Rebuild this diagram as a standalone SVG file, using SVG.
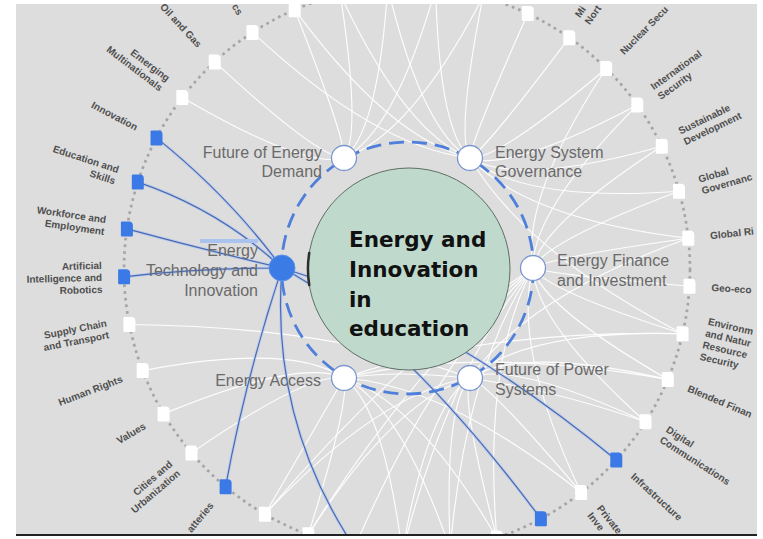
<svg xmlns="http://www.w3.org/2000/svg" xmlns:xlink="http://www.w3.org/1999/xlink" width="763" height="539" viewBox="0 0 763 539">
<style>
.w{fill:none;stroke:#ffffff;stroke-width:1.15;opacity:0.95}
.bh{fill:none;stroke:#aac3ef;stroke-width:3.2;opacity:0.55}
.b{fill:none;stroke:#4869b5;stroke-width:1.2}
.lbl{font-family:"Liberation Sans",Arial,sans-serif;font-size:10px;font-weight:bold;fill:#4f4f4f}
.e{text-anchor:end}
.nl{font-family:"Liberation Sans",Arial,sans-serif;font-size:16px;fill:#6a6a6a}
.sqw{fill:#ffffff}
.sqb{fill:#3b7ae6}
.node{fill:#ffffff;stroke:#7b96cf;stroke-width:1.3}
</style>
<defs>
<clipPath id="clip"><rect x="16" y="4" width="741" height="530"/></clipPath>
<path id="sq" d="M-5,-7.5 H2 A4,4 0 0 1 6,-3.5 V6.5 A1,1 0 0 1 5,7.5 H-5 A1,1 0 0 1 -6,6.5 V-6.5 A1,1 0 0 1 -5,-7.5 Z"/>
</defs>
<rect x="0" y="0" width="763" height="539" fill="#ffffff"/>
<rect x="16" y="4" width="741" height="530" fill="#dddddd"/>
<g clip-path="url(#clip)">
<g id="connectors">
<path class="w" d="M344,158 Q306.3,169.8 182.3,97.4"/>
<path class="w" d="M344,158 Q317.6,157.4 214.7,61.9"/>
<path class="w" d="M344,158 Q345.6,139.1 294.7,9.7"/>
<path class="w" d="M344,158 Q361.6,133.8 340.3,-5.5"/>
<path class="w" d="M344,158 Q378.2,131.2 387.7,-12.8"/>
<path class="w" d="M344,158 Q395,131.5 435.7,-12"/>
<path class="w" d="M344,158 Q411.5,134.6 482.9,-3.1"/>
<path class="w" d="M470,158 Q375,147 252.5,32.4"/>
<path class="w" d="M470,158 Q389.7,139.1 294.7,9.7"/>
<path class="w" d="M470,158 Q405.7,133.8 340.3,-5.5"/>
<path class="w" d="M470,158 Q422.3,131.2 387.7,-12.8"/>
<path class="w" d="M470,158 Q439.1,131.5 435.7,-12"/>
<path class="w" d="M470,158 Q455.6,134.6 482.9,-3.1"/>
<path class="w" d="M470,158 Q471.3,140.5 527.8,13.6"/>
<path class="w" d="M470,158 Q485.9,148.9 569.3,37.7"/>
<path class="w" d="M470,158 Q498.8,159.7 606.2,68.5"/>
<path class="w" d="M470,158 Q509.7,172.5 637.3,105.1"/>
<path class="w" d="M470,158 Q518.2,186.9 661.8,146.3"/>
<path class="w" d="M470,158 Q524.3,202.6 679,191.2"/>
<path class="w" d="M470,158 Q527.5,219.1 688.3,238.2"/>
<path class="w" d="M470,158 Q525.5,252.5 682.6,333.7"/>
<path class="w" d="M533,268 Q520.8,198.2 606.2,68.5"/>
<path class="w" d="M533,268 Q531.7,211 637.3,105.1"/>
<path class="w" d="M533,268 Q540.3,225.4 661.8,146.3"/>
<path class="w" d="M533,268 Q546.3,241.1 679,191.2"/>
<path class="w" d="M533,268 Q549.6,257.6 688.3,238.2"/>
<path class="w" d="M533,268 Q550,274.4 689.5,286.2"/>
<path class="w" d="M533,268 Q547.6,291 682.6,333.7"/>
<path class="w" d="M533,268 Q542.4,307 667.8,379.4"/>
<path class="w" d="M533,268 Q534.6,321.8 645.5,421.8"/>
<path class="w" d="M533,268 Q512,346.6 581.1,492.6"/>
<path class="w" d="M533,268 Q482.5,362.5 496.8,537.9"/>
<path class="w" d="M533,268 Q466.2,366.4 450.2,549.2"/>
<path class="w" d="M533,268 Q449.5,367.6 402.3,552.5"/>
<path class="w" d="M533,268 Q432.8,365.9 354.6,547.6"/>
<path class="w" d="M533,268 Q416.6,361.3 308.3,534.7"/>
<path class="w" d="M533,268 Q401.4,354.2 264.9,514.2"/>
<path class="w" d="M470,378 Q527.5,296.1 688.3,238.2"/>
<path class="w" d="M470,378 Q525.5,329.5 682.6,333.7"/>
<path class="w" d="M470,378 Q520.3,345.5 667.8,379.4"/>
<path class="w" d="M470,378 Q512.5,360.3 645.5,421.8"/>
<path class="w" d="M470,378 Q490,385.1 581.1,492.6"/>
<path class="w" d="M470,378 Q460.5,401 496.8,537.9"/>
<path class="w" d="M470,378 Q444.2,404.9 450.2,549.2"/>
<path class="w" d="M470,378 Q427.4,406.1 402.3,552.5"/>
<path class="w" d="M470,378 Q394.5,399.8 308.3,534.7"/>
<path class="w" d="M470,378 Q379.3,392.7 264.9,514.2"/>
<path class="w" d="M470,378 Q331.9,326.3 129.4,324.5"/>
<path class="w" d="M344,378 Q292.4,342.4 142.7,370.6"/>
<path class="w" d="M344,378 Q299.8,357.6 163.6,413.9"/>
<path class="w" d="M344,378 Q309.5,371.2 191.5,452.9"/>
<path class="w" d="M344,378 Q335.2,392.7 264.9,514.2"/>
<path class="w" d="M344,378 Q350.4,399.8 308.3,534.7"/>
<path class="w" d="M344,378 Q383.3,406.1 402.3,552.5"/>
<path class="w" d="M344,378 Q400.1,404.9 450.2,549.2"/>
<path class="w" d="M344,378 Q416.4,401 496.8,537.9"/>
<path class="w" d="M344,378 Q445.9,385.1 581.1,492.6"/>
<path class="w" d="M344,378 Q468.4,360.3 645.5,421.8"/>
<path class="w" d="M344,378 Q476.2,345.5 667.8,379.4"/>
<path class="w" d="M344,378 Q481.4,329.5 682.6,333.7"/>
<g id="tech-links">
<path class="bh" d="M282,268 Q230,197 156.5,137.9"/>
<path class="bh" d="M282,268 Q220,210 137.8,182.1"/>
<path class="bh" d="M282,268 Q205,250 126.9,228.9"/>
<path class="bh" d="M282,268 Q200,268 124.1,276.8"/>
<path class="bh" d="M282,268 Q245,380 225.6,486.7"/>
<path class="bh" d="M282,268 Q270,420 354.6,547.6"/>
<path class="bh" d="M282,268 Q400,330 540.9,518.8"/>
<path class="bh" d="M282,268 Q440,315 616.3,460"/>
<path class="b" d="M282,268 Q230,197 156.5,137.9"/>
<path class="b" d="M282,268 Q220,210 137.8,182.1"/>
<path class="b" d="M282,268 Q205,250 126.9,228.9"/>
<path class="b" d="M282,268 Q200,268 124.1,276.8"/>
<path class="b" d="M282,268 Q245,380 225.6,486.7"/>
<path class="b" d="M282,268 Q270,420 354.6,547.6"/>
<path class="b" d="M282,268 Q400,330 540.9,518.8"/>
<path class="b" d="M282,268 Q440,315 616.3,460"/>
</g>
</g>
<circle id="outer-ring" cx="407" cy="269.5" r="283" fill="none" stroke="#a5a5a5" stroke-width="2.7" stroke-dasharray="2.7 4"/>
<g id="topics">
<g id="t36"><use xlink:href="#sq" class="sqw" transform="translate(679,191.2)"/><text class="lbl" transform="translate(700.1,185.1) rotate(-16.07)"><tspan x="0" y="-2.5">Global</tspan><tspan x="0" y="9.5">Governanc</tspan></text></g>
<g id="t0"><use xlink:href="#sq" class="sqw" transform="translate(688.3,238.2)"/><text class="lbl" transform="translate(710.1,235.8) rotate(-6.35)" y="3.5">Global Ri</text></g>
<g id="t1"><use xlink:href="#sq" class="sqw" transform="translate(689.5,286.2)"/><text class="lbl" transform="translate(711.5,287.5) rotate(3.38)" y="3.5">Geo-eco</text></g>
<g id="t2"><use xlink:href="#sq" class="sqw" transform="translate(682.6,333.7)"/><text class="lbl" transform="translate(704.1,338.7) rotate(13.11)"><tspan x="0" y="-14.5">Environm</tspan><tspan x="0" y="-2.5">and Natur</tspan><tspan x="0" y="9.5">Resource</tspan><tspan x="0" y="21.5">Security</tspan></text></g>
<g id="t3"><use xlink:href="#sq" class="sqw" transform="translate(667.8,379.4)"/><text class="lbl" transform="translate(688.1,387.9) rotate(22.84)" y="3.5">Blended Finan</text></g>
<g id="t4"><use xlink:href="#sq" class="sqw" transform="translate(645.5,421.8)"/><text class="lbl" transform="translate(664,433.7) rotate(32.57)"><tspan x="0" y="-2.5">Digital</tspan><tspan x="0" y="9.5">Communications</tspan></text></g>
<g id="t5"><use xlink:href="#sq" class="sqb" transform="translate(616.3,460)"/><text class="lbl" transform="translate(632.6,474.8) rotate(42.3)" y="3.5">Infrastructure</text></g>
<g id="t6"><use xlink:href="#sq" class="sqw" transform="translate(581.1,492.6)"/><text class="lbl" transform="translate(594.6,510) rotate(52.03)"><tspan x="0" y="-2.5">Private</tspan><tspan x="0" y="9.5">Inve</tspan></text></g>
<g id="t7"><use xlink:href="#sq" class="sqb" transform="translate(540.9,518.8)"/></g>
<g id="t8"><use xlink:href="#sq" class="sqw" transform="translate(496.8,537.9)"/></g>
<g id="t12"><use xlink:href="#sq" class="sqw" transform="translate(308.3,534.7)"/></g>
<g id="t13"><use xlink:href="#sq" class="sqw" transform="translate(264.9,514.2)"/></g>
<g id="t14"><use xlink:href="#sq" class="sqb" transform="translate(225.6,486.7)"/><text class="lbl e" transform="translate(211.5,503.6) rotate(-50.13)" y="3.5">atteries</text></g>
<g id="t15"><use xlink:href="#sq" class="sqw" transform="translate(191.5,452.9)"/><text class="lbl e" transform="translate(174.7,467.2) rotate(-40.4)"><tspan x="0" y="-2.5">Cities and</tspan><tspan x="0" y="9.5">Urbanization</tspan></text></g>
<g id="t16"><use xlink:href="#sq" class="sqw" transform="translate(163.6,413.9)"/><text class="lbl e" transform="translate(144.7,425.1) rotate(-30.67)" y="3.5">Values</text></g>
<g id="t17"><use xlink:href="#sq" class="sqw" transform="translate(142.7,370.6)"/><text class="lbl e" transform="translate(122.1,378.5) rotate(-20.94)" y="3.5">Human Rights</text></g>
<g id="t18"><use xlink:href="#sq" class="sqw" transform="translate(129.4,324.5)"/><text class="lbl e" transform="translate(107.8,328.8) rotate(-11.21)"><tspan x="0" y="-2.5">Supply Chain</tspan><tspan x="0" y="9.5">and Transport</tspan></text></g>
<g id="t19"><use xlink:href="#sq" class="sqb" transform="translate(124.1,276.8)"/><text class="lbl e" transform="translate(102.1,277.4) rotate(-1.48)"><tspan x="0" y="-8.5">Artificial</tspan><tspan x="0" y="3.5">Intelligence and</tspan><tspan x="0" y="15.5">Robotics</tspan></text></g>
<g id="t20"><use xlink:href="#sq" class="sqb" transform="translate(126.9,228.9)"/><text class="lbl e" transform="translate(105.2,225.7) rotate(8.25)"><tspan x="0" y="-2.5">Workforce and</tspan><tspan x="0" y="9.5">Employment</tspan></text></g>
<g id="t21"><use xlink:href="#sq" class="sqb" transform="translate(137.8,182.1)"/><text class="lbl e" transform="translate(116.9,175.4) rotate(17.98)"><tspan x="0" y="-2.5">Education and</tspan><tspan x="0" y="9.5">Skills</tspan></text></g>
<g id="t22"><use xlink:href="#sq" class="sqb" transform="translate(156.5,137.9)"/><text class="lbl e" transform="translate(137,127.7) rotate(27.71)" y="3.5">Innovation</text></g>
<g id="t23"><use xlink:href="#sq" class="sqw" transform="translate(182.3,97.4)"/><text class="lbl e" transform="translate(164.9,84) rotate(37.44)"><tspan x="0" y="-2.5">Emerging</tspan><tspan x="0" y="9.5">Multinationals</tspan></text></g>
<g id="t24"><use xlink:href="#sq" class="sqw" transform="translate(214.7,61.9)"/><text class="lbl e" transform="translate(199.8,45.7) rotate(47.17)" y="3.5">Oil and Gas</text></g>
<g id="t25"><use xlink:href="#sq" class="sqw" transform="translate(252.5,32.4)"/><text class="lbl e" transform="translate(240.4,14) rotate(56.9)" y="3.5">cs</text></g>
<g id="t26"><use xlink:href="#sq" class="sqw" transform="translate(294.7,9.7)"/></g>
<g id="t31"><use xlink:href="#sq" class="sqw" transform="translate(527.8,13.6)"/></g>
<g id="t32"><use xlink:href="#sq" class="sqw" transform="translate(569.3,37.7)"/><text class="lbl" transform="translate(582,19.7) rotate(-54.99)"><tspan x="0" y="-2.5">Mi</tspan><tspan x="0" y="9.5">Nort</tspan></text></g>
<g id="t33"><use xlink:href="#sq" class="sqw" transform="translate(606.2,68.5)"/><text class="lbl" transform="translate(621.7,52.8) rotate(-45.26)" y="3.5">Nuclear Secu</text></g>
<g id="t34"><use xlink:href="#sq" class="sqw" transform="translate(637.3,105.1)"/><text class="lbl" transform="translate(655.2,92.3) rotate(-35.53)"><tspan x="0" y="-2.5">International</tspan><tspan x="0" y="9.5">Security</tspan></text></g>
<g id="t35"><use xlink:href="#sq" class="sqw" transform="translate(661.8,146.3)"/><text class="lbl" transform="translate(681.6,136.8) rotate(-25.8)"><tspan x="0" y="-2.5">Sustainable</tspan><tspan x="0" y="9.5">Development</tspan></text></g>
</g>
</g>
<rect x="16" y="534" width="741" height="2" fill="#222222"/>
<rect x="200" y="239" width="58" height="4" fill="#a9c3ee"/>
<circle id="inner-ring" cx="407.5" cy="268" r="126" fill="none" stroke="#4f7fda" stroke-width="2.8" stroke-dasharray="15 8"/>
<g id="center">
<circle cx="409" cy="269" r="101" fill="#bfdacd" stroke="#5e6e66" stroke-width="1"/>
<path d="M309.4,252 A101,101 0 0 0 309.4,286" fill="none" stroke="#2e2e2e" stroke-width="2.5"/>
<text font-family="DejaVu Sans, Verdana, sans-serif" font-weight="bold" font-size="21.5" fill="#111111"><tspan x="349" y="247">Energy and</tspan><tspan x="349" y="277">Innovation</tspan><tspan x="349" y="307">in</tspan><tspan x="349" y="336">education</tspan></text>
</g>
<g id="n-demand"><circle class="node" cx="344" cy="158" r="12.5"/><text class="nl e"><tspan x="322" y="158">Future of Energy</tspan><tspan x="322" y="177">Demand</tspan></text></g>
<g id="n-governance"><circle class="node" cx="470" cy="158" r="12.5"/><text class="nl"><tspan x="495" y="158">Energy System</tspan><tspan x="495" y="177">Governance</tspan></text></g>
<g id="n-finance"><circle class="node" cx="533" cy="268" r="12.5"/><text class="nl"><tspan x="557" y="266">Energy Finance</tspan><tspan x="557" y="286">and Investment</tspan></text></g>
<g id="n-power"><circle class="node" cx="470" cy="378" r="12.5"/><text class="nl"><tspan x="495" y="375">Future of Power</tspan><tspan x="495" y="395">Systems</tspan></text></g>
<g id="n-access"><circle class="node" cx="344" cy="378" r="12.5"/><text class="nl e" x="321" y="385.5">Energy Access</text></g>
<g id="n-tech"><circle cx="282" cy="268" r="13" fill="#3b7be6" stroke="#5f8fe6" stroke-width="1"/><text class="nl e"><tspan x="258" y="256">Energy</tspan><tspan x="258" y="276">Technology and</tspan><tspan x="258" y="296">Innovation</tspan></text></g>
</svg>
